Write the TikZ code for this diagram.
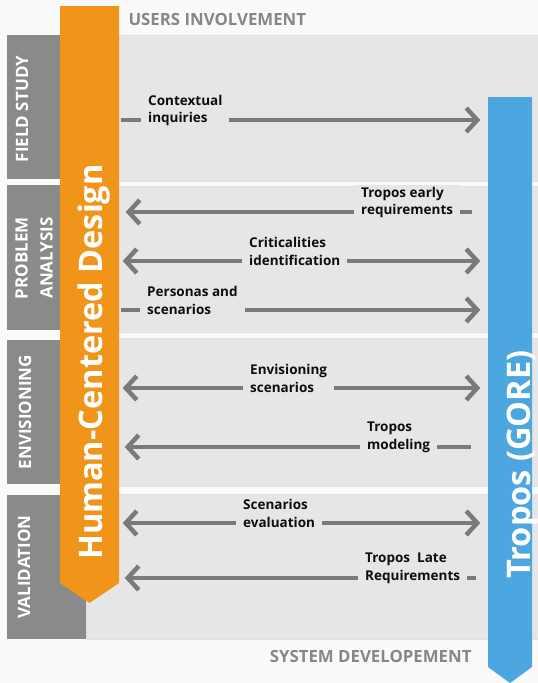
\documentclass[tikz,border=0pt]{standalone}
\usepackage{fontspec}
\setmainfont{Open Sans}
\usetikzlibrary{arrows.meta}
\pgfdeclarelayer{bglayer}
\pgfdeclarelayer{edgelayer}
\pgfdeclarelayer{nodelayer}
\pgfsetlayers{bglayer,edgelayer,nodelayer,main}
\definecolor{hcdorange}{HTML}{F0951A}
\definecolor{goreblue}{HTML}{4CA6E0}
\definecolor{tabgray}{HTML}{8A8A8A}
\definecolor{bandgray}{HTML}{E6E6E6}
\definecolor{arrowgray}{HTML}{7A7A7A}
\definecolor{headgray}{HTML}{878787}
\tikzset{font=\fontsize{13.5}{17.5}\selectfont\bfseries}
\tikzstyle{none}=[inner sep=0pt]
\tikzstyle{lbl}=[fill=bandgray, inner xsep=7pt, inner ysep=2pt, align=left, anchor=west, text=black!95]
\tikzstyle{tab}=[rotate=90, text=white, font=\fontsize{17}{25}\selectfont\bfseries, align=center]
\tikzstyle{bar}=[rotate=90, anchor=base, text=white, font=\fontsize{32.5}{36}\selectfont\bfseries]
\tikzstyle{head}=[text=headgray, font=\fontsize{16.8}{20}\selectfont\bfseries]
\tikzstyle{flow}=[draw=arrowgray, line width=4.5pt, -{Straight Barb[length=11pt,width=24pt]}]
\tikzstyle{both}=[flow, {Straight Barb[length=11pt,width=24pt]}-{Straight Barb[length=11pt,width=24pt]}]
\tikzstyle{band}=[fill=bandgray, draw=black!12, line width=0.6pt]

\begin{document}
\begin{tikzpicture}[x=1pt, y=-1pt]
	\useasboundingbox (0,0) rectangle (538,683);
	\begin{pgfonlayer}{bglayer}
		\fill[white!98!black] (0,0) rectangle (538,683);
		\path[band] (86,35) rectangle (538,181);
		\path[band] (86,186) rectangle (538,332);
		\path[band] (86,338) rectangle (538,486);
		\path[band] (86,494) rectangle (538,639);
		\fill[tabgray] (7,35) rectangle (86,179);
		\fill[tabgray] (7,185) rectangle (86,330);
		\fill[tabgray] (7,340) rectangle (86,484);
		\fill[tabgray] (7,495) rectangle (86,639);
		\fill[hcdorange] (60,6) -- (119,6) -- (119,583) -- (89.5,603) -- (60,583) -- cycle;
		\fill[goreblue] (488,97) -- (532,97) -- (532,667) -- (510,683) -- (488,667) -- cycle;
	\end{pgfonlayer}
	\begin{pgfonlayer}{nodelayer}
		\node [style=head, anchor=base west] (0) at (125, 25) {USERS INVOLVEMENT};
		\node [style=head, anchor=base east] (1) at (475, 662) {SYSTEM DEVELOPEMENT};
		\node [style=tab, anchor=base] (2) at (28, 109) {FIELD STUDY};
		\node [style=tab] (3) at (34, 258) {PROBLEM\\ANALYSIS};
		\node [style=tab, anchor=base] (4) at (31, 412) {ENVISIONING};
		\node [style=tab, anchor=base] (5) at (30, 567) {VALIDATION};
		\node [style=bar] (6) at (102, 362) {Human-Centered Design};
		\node [style=bar] (7) at (530, 464.5) {Tropos (GORE)};

		\node [style=none] (10) at (120, 120) {};
		\node [style=none] (11) at (481, 120) {};
		\node [style=none] (12) at (473, 212) {};
		\node [style=none] (13) at (125, 212) {};
		\node [style=none] (14) at (122, 261) {};
		\node [style=none] (15) at (481, 261) {};
		\node [style=none] (16) at (120, 310) {};
		\node [style=none] (17) at (481, 310) {};
		\node [style=none] (18) at (122, 388) {};
		\node [style=none] (19) at (481, 388) {};
		\node [style=none] (20) at (472, 447) {};
		\node [style=none] (21) at (124, 447) {};
		\node [style=none] (22) at (122, 523) {};
		\node [style=none] (23) at (481, 523) {};
		\node [style=none] (24) at (477, 578) {};
		\node [style=none] (25) at (124, 578) {};

		\node [style=lbl] (30) at (141, 110.5) {Contextual\\inquiries};
		\node [style=lbl] (31) at (354, 202.5) {Tropos early\\requirements};
		\node [style=lbl] (32) at (242, 251.5) {Criticalities\\identification};
		\node [style=lbl] (33) at (140, 300.5) {Personas and\\scenarios};
		\node [style=lbl] (34) at (243, 378.5) {Envisioning\\scenarios};
		\node [style=lbl] (35) at (360, 437.5) {Tropos\\modeling};
		\node [style=lbl] (36) at (236, 513.5) {Scenarios\\evaluation};
		\node [style=lbl] (37) at (358, 568.5) {Tropos\ \ Late\\Requirements};
	\end{pgfonlayer}
	\begin{pgfonlayer}{edgelayer}
		\draw [style=flow] (10) to (11);
		\draw [style=flow] (12) to (13);
		\draw [style=both] (14) to (15);
		\draw [style=flow] (16) to (17);
		\draw [style=both] (18) to (19);
		\draw [style=flow] (20) to (21);
		\draw [style=both] (22) to (23);
		\draw [style=flow] (24) to (25);
	\end{pgfonlayer}
\end{tikzpicture}
\end{document}
